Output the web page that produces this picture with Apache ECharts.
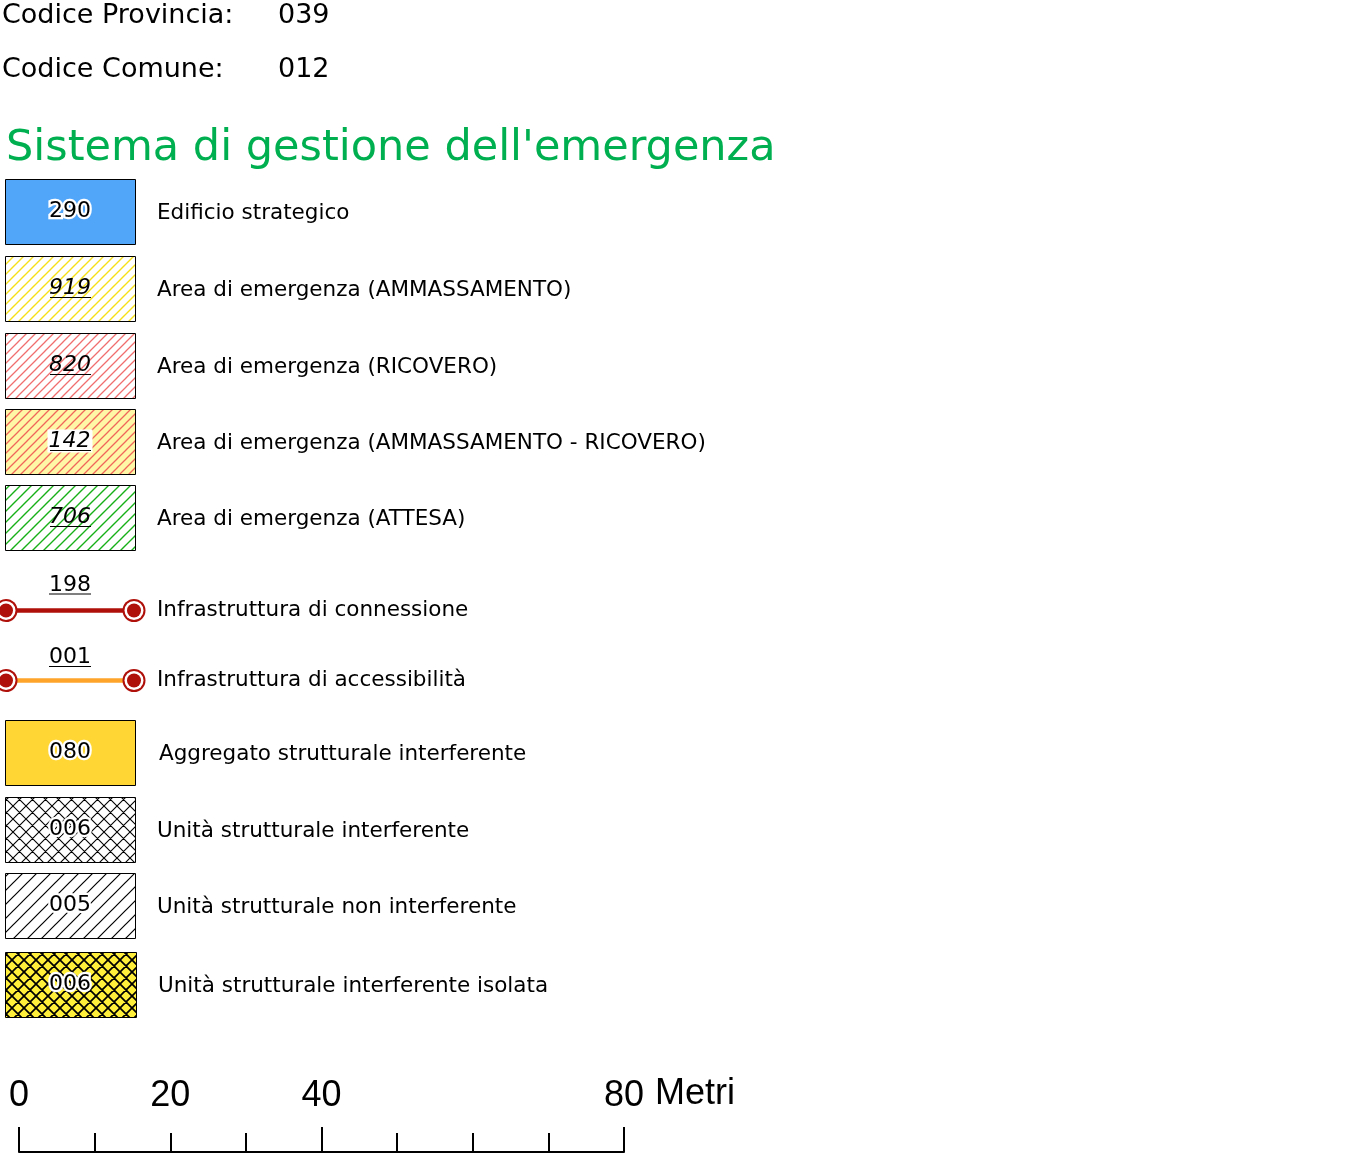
<!DOCTYPE html>
<html><head><meta charset="utf-8">
<script src="https://cdn.jsdelivr.net/npm/echarts@6/dist/echarts.min.js"></script>
<style>html,body{margin:0;padding:0;background:#fff}#c{width:1367px;height:1172px}</style>
</head><body><div id="c"></div>
<script>
// ---- content ----
const headerKeys = ['Codice Provincia:', 'Codice Comune:'];
const headerValues = ['039', '012'];
const titleText = "Sistema di gestione dell'emergenza";
const itemCodes = ['290', '919', '820', '142', '706', '198', '001', '080', '006', '005', '006'];
const itemLabels = [
  'Edificio strategico',
  'Area di emergenza (AMMASSAMENTO)',
  'Area di emergenza (RICOVERO)',
  'Area di emergenza (AMMASSAMENTO - RICOVERO)',
  'Area di emergenza (ATTESA)',
  'Infrastruttura di connessione',
  'Infrastruttura di accessibilità',
  'Aggregato strutturale interferente',
  'Unità strutturale interferente',
  'Unità strutturale non interferente',
  'Unità strutturale interferente isolata'
];
const scaleMin = 0, scaleMax = 80, scaleStep = 10, scaleMajorStep = 40;
const scaleLabels = [0, 20, 40, 80];
const scaleUnit = 'Metri';

// ---- layout / styles ----
const FONT = '"DejaVu Sans", "Noto Sans", sans-serif';
const SCALE_FONT = '"Liberation Sans Narrow", "Liberation Sans", sans-serif';
const rowTop = [179, 256, 333, 409, 485, 610.5, 680.5, 720, 797, 873, 952];
const rowStyle = [
  {type: 'box', fill: '#52a6fa', code: 'halo'},
  {type: 'box', hatch: ['#ffffff', '#f5df18', 10, 1.4, false], code: 'under'},
  {type: 'box', hatch: ['#ffffff', '#f06e6e', 9, 1.3, false], code: 'under'},
  {type: 'box', hatch: ['#fff7a6', '#f0665a', 9, 1.3, false], code: 'underBg'},
  {type: 'box', hatch: ['#ffffff', '#18b018', 11, 1.4, false], code: 'under'},
  {type: 'line', color: '#b0100a', code: 'above', dy: -25, uy: -16.5},
  {type: 'line', color: '#ffa42a', code: 'above', dy: -23.5, uy: -14},
  {type: 'box', fill: '#ffd633', code: 'halo', labelDx: 2},
  {type: 'box', hatch: ['#ffffff', '#000000', 13, 1.1, true], code: 'halo'},
  {type: 'box', hatch: ['#ffffff', '#000000', 14, 1.2, false], code: 'halo'},
  {type: 'box', hatch: ['#ffee3a', '#000000', 12, 1.7, true], code: 'halo', w: 131, labelDx: 1}
];

function hatch(bg, color, p, w, cross) {
  const c = document.createElement('canvas');
  c.width = p; c.height = p;
  const g = c.getContext('2d');
  g.fillStyle = bg; g.fillRect(0, 0, p, p);
  g.strokeStyle = color; g.lineWidth = w; g.lineCap = 'square';
  g.beginPath();
  for (const k of [0, p, 2 * p]) { g.moveTo(-2, k + 2); g.lineTo(p + 2, k - p - 2); }
  if (cross) for (const k of [-p, 0, p]) { g.moveTo(-2, k - 2); g.lineTo(p + 2, k + p + 2); }
  g.stroke();
  return {image: c, repeat: 'repeat'};
}

const els = [];
const txt = (x, y, text, font, extra) => els.push({
  type: 'text', x, y, z: 10,
  style: Object.assign({text, font, fill: '#000', align: 'left', verticalAlign: 'middle'}, extra || {})
});

headerKeys.forEach((k, i) => {
  txt(2, 16 + i * 54, k, '27px ' + FONT);
  txt(278, 16 + i * 54, headerValues[i], '27px ' + FONT);
});
txt(6, 149, titleText, '43px ' + FONT, {fill: '#00b050'});

itemCodes.forEach((code, i) => {
  const s = rowStyle[i];
  const y0 = rowTop[i];
  if (s.type === 'box') {
    const w = s.w || 130;
    els.push({type: 'rect', z: 2, shape: {x: 5.5, y: y0 + 0.5, width: w, height: 65},
      style: {fill: s.fill || hatch.apply(null, s.hatch), stroke: '#000', lineWidth: 1}});
    const cy = y0 + 32;
    const italic = s.code === 'under' || s.code === 'underBg';
    const extra = {align: 'center'};
    if (s.code === 'halo') Object.assign(extra, {stroke: '#fff', lineWidth: 4.5});
    if (s.code === 'underBg') Object.assign(extra, {backgroundColor: '#fff', padding: [1, 2, 0, 1]});
    txt(70, cy, code, (italic ? 'italic ' : '') + '22px ' + FONT, extra);
    if (italic) els.push({type: 'line', z: 11, shape: {x1: 50, y1: cy + 9.5, x2: 91, y2: cy + 9.5}, style: {stroke: '#000', lineWidth: 1}});
    txt(157 + (s.labelDx || 0), y0 + 34, itemLabels[i], '21.5px ' + FONT);
  } else {
    const cy = y0;
    els.push({type: 'line', z: 2, shape: {x1: 6, y1: cy, x2: 134, y2: cy}, style: {stroke: s.color, lineWidth: 4.5}});
    for (const cx of [6, 134]) {
      els.push({type: 'circle', z: 3, shape: {cx, cy, r: 11.5}, style: {fill: '#b0100a'}});
      els.push({type: 'circle', z: 4, shape: {cx, cy, r: 9.5}, style: {fill: '#fff'}});
      els.push({type: 'circle', z: 5, shape: {cx, cy, r: 7}, style: {fill: '#b0100a'}});
    }
    txt(70, cy + s.dy, code, '22px ' + FONT, {align: 'center'});
    els.push({type: 'line', z: 11, shape: {x1: 49, y1: cy + s.uy, x2: 91, y2: cy + s.uy}, style: {stroke: '#000', lineWidth: 1}});
    txt(157, cy, itemLabels[i], '21.5px ' + FONT);
  }
});
txt(655, 1094, scaleUnit, '36px ' + SCALE_FONT);

const gridPos = {left: 19, width: 605, top: 1100, height: 52};
const chart = echarts.init(document.getElementById('c'));
chart.setOption({
  animation: false,
  backgroundColor: '#fff',
  grid: [Object.assign({}, gridPos), Object.assign({}, gridPos)],
  xAxis: [
    {type: 'value', gridIndex: 0, min: scaleMin, max: scaleMax, interval: scaleStep, position: 'bottom',
      axisLine: {show: true, lineStyle: {color: '#000', width: 2}},
      axisTick: {show: true, inside: true, length: 19, lineStyle: {color: '#000', width: 2}},
      splitLine: {show: false},
      axisLabel: {show: true, inside: true, interval: 0, margin: 38, color: '#000', fontSize: 36,
        fontFamily: SCALE_FONT,
        formatter: v => scaleLabels.includes(v) ? String(v) : ''}},
    {type: 'value', gridIndex: 1, min: scaleMin, max: scaleMax, interval: scaleMajorStep, position: 'bottom',
      axisLine: {show: false}, splitLine: {show: false}, axisLabel: {show: false},
      axisTick: {show: true, inside: true, length: 25, lineStyle: {color: '#000', width: 2}}}
  ],
  yAxis: [
    {type: 'value', gridIndex: 0, show: false, min: 0, max: 1},
    {type: 'value', gridIndex: 1, show: false, min: 0, max: 1}
  ],
  series: [
    {type: 'line', xAxisIndex: 0, yAxisIndex: 0, data: []},
    {type: 'line', xAxisIndex: 1, yAxisIndex: 1, data: []}
  ],
  graphic: {elements: els}
});
</script>
</body></html>
